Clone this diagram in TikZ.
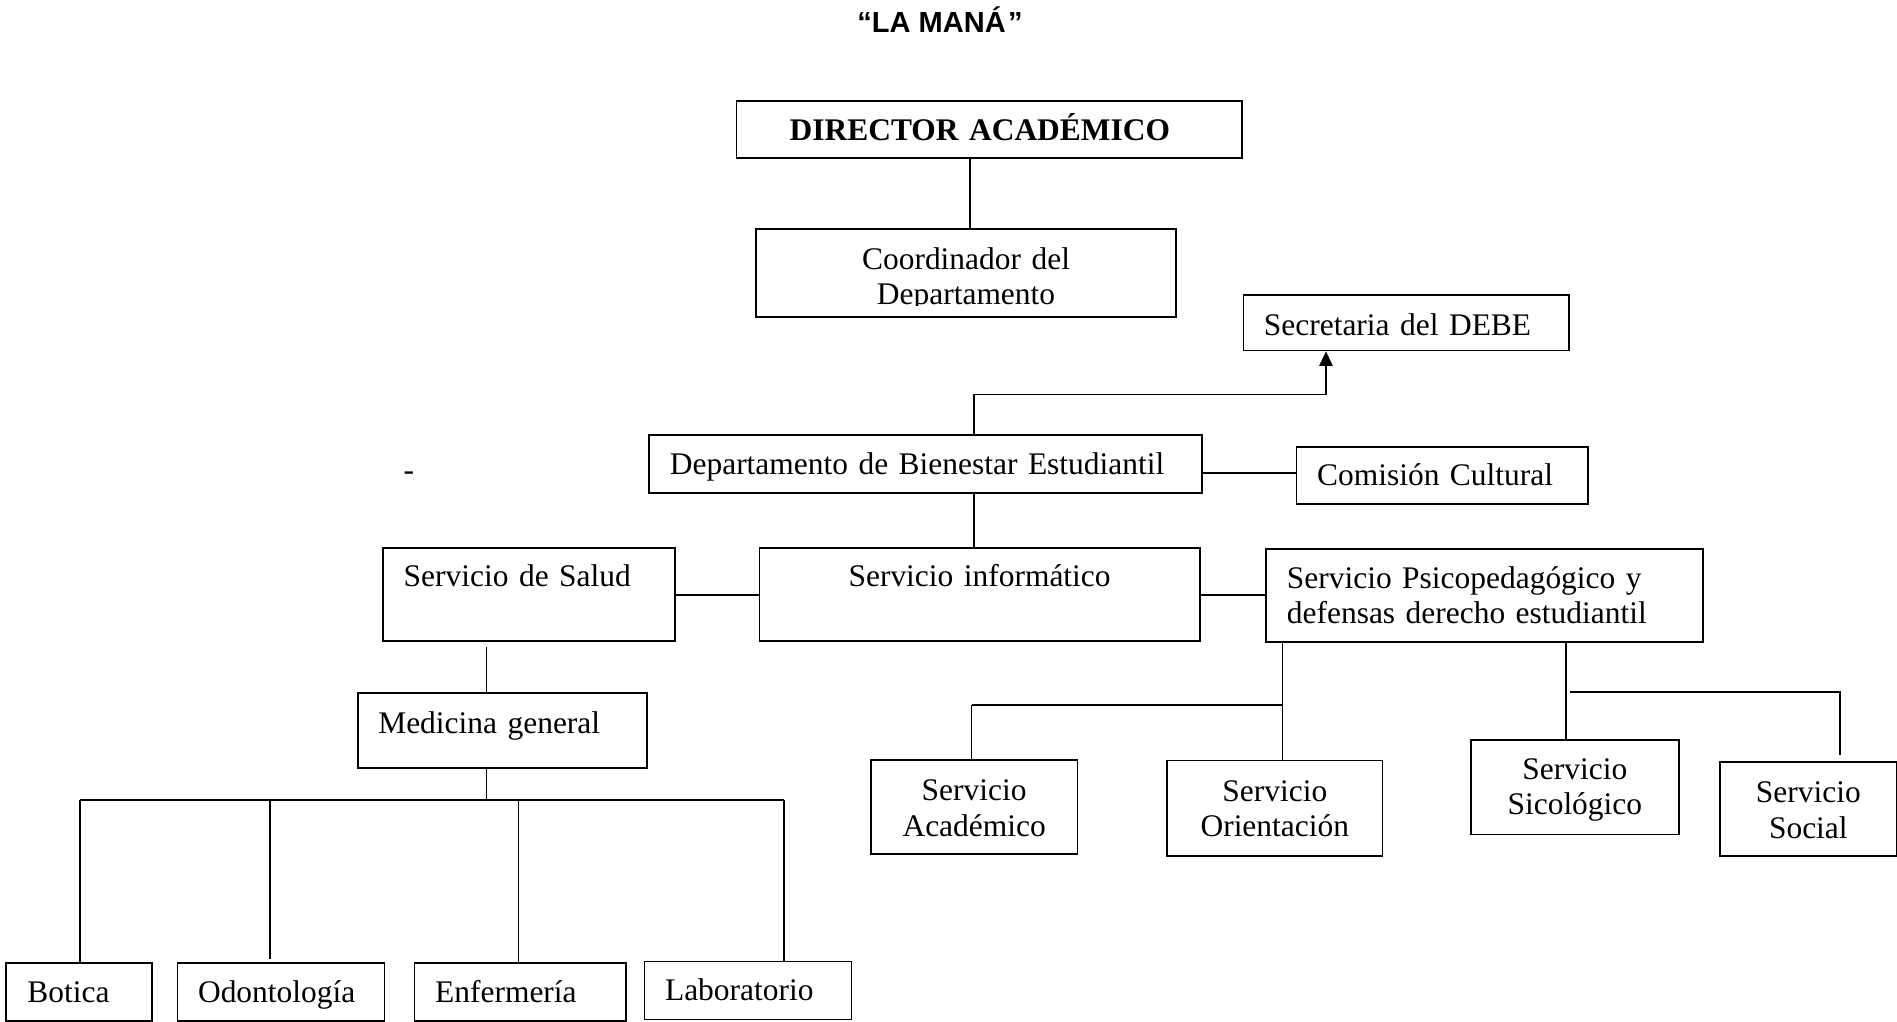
\documentclass[tikz,border=0pt]{standalone}
\usepackage{fontspec}
\setmainfont{Liberation Serif}
\newfontfamily\titlef{Liberation Sans}
\usetikzlibrary{arrows.meta}
\newcommand{\bodysize}{\fontsize{26pt}{29.5pt}\selectfont}
\newcommand{\titlesize}{\fontsize{24pt}{27pt}\selectfont}
\begin{document}
\begin{tikzpicture}[x=1pt,y=-1pt,line width=1.4pt,
  box/.style={draw,line width=1.4pt,inner sep=0pt,anchor=north west,align=left,font=\bodysize},
  cbox/.style={box,align=center},
  conn/.style={line width=1.4pt},
  tip/.style={-{Triangle[length=12pt,width=11pt]}}]
\useasboundingbox (0,0) rectangle (1568,844);

% title
\node[font=\titlef\bfseries\titlesize,anchor=base,inner sep=0pt] (title) at (777,27)
  {“LA MANÁ\kern2pt”};

% boxes
\node[box,font=\bodysize\bfseries,inner xsep=44pt,text width=330pt,text height=32.7pt,text depth=14.3pt] (dir) at (608,83) {DIRECTOR ACADÉMICO};

\begin{scope}
\clip (600,180) rectangle (1000,252.3);
\node[cbox,draw=none,outer sep=0pt,inner xsep=10pt,text width=327pt,text height=33.4pt,text depth=39.6pt] (coord) at (625,189) {Coordinador del\\Departamento};
\end{scope}
\draw[line width=1.4pt] (coord.north west) rectangle (coord.south east);

\node[box,inner xsep=17pt,text width=235pt,text height=34pt,text depth=12pt] (sec) at (1027,243) {Secretaria del DEBE};
\node[box,inner xsep=17pt,text width=423pt,text height=32.3pt,text depth=15.7pt] (dept) at (536,359) {Departamento de Bienestar Estudiantil};
\node[box,inner xsep=17pt,text width=207pt,text height=32pt,text depth=15pt] (com) at (1071,369) {Comisión Cultural};

\node[box,inner xsep=17pt,text width=207pt,text height=32.4pt,text depth=44.6pt] (salud) at (316,452) {Servicio de Salud};
\node[cbox,inner xsep=10pt,text width=344pt,text height=32.4pt,text depth=44.6pt] (inf) at (627,452) {Servicio informático};
\node[box,inner xsep=17pt,text width=327pt,text height=32.5pt,text depth=44.5pt] (psi) at (1046,453) {Servicio Psicopedagógico y\\defensas derecho estudiantil};

\node[box,inner xsep=17pt,text width=205pt,text height=33.6pt,text depth=28.4pt] (med) at (295,572) {Medicina general};

\node[box,inner xsep=18pt,text width=85pt,text height=33pt,text depth=15pt] (bot) at (4,795) {Botica};
\node[box,inner xsep=17pt,text width=137pt,text height=33pt,text depth=15pt] (odo) at (146,795) {Odontología};
\node[box,inner xsep=17pt,text width=141pt,text height=33pt,text depth=15pt] (enf) at (342,795) {Enfermería};
\node[box,inner xsep=17pt,text width=137pt,text height=32pt,text depth=16pt] (lab) at (532,794) {Laboratorio};

\node[cbox,inner xsep=5pt,text width=161pt,text height=33.5pt,text depth=44pt] (aca) at (719,627.5) {Servicio\\Académico};
\node[cbox,inner xsep=5pt,text width=168pt,text height=33.5pt,text depth=45.5pt] (ori) at (964,628) {Servicio\\Orientación};
\node[cbox,inner xsep=5pt,text width=162pt,text height=32.4pt,text depth=45.6pt] (sic) at (1215,611) {Servicio\\Sicológico};
\node[cbox,inner xsep=5pt,text width=136pt,text height=33.6pt,text depth=44.4pt] (soc) at (1421,629) {Servicio\\Social};

% stray hyphen
\node[font=\bodysize,anchor=base,inner sep=0pt] (hy) at (338,397.5) {-};

% junction coordinates
\coordinate (k1) at (802,0);
\coordinate (a1) at (805,326);
\coordinate (a2) at (1096,326);
\coordinate (y391) at (0,391);
\coordinate (y492) at (0,492);
\coordinate (m1) at (402,661);
\coordinate (b1) at (66,661);
\coordinate (b2) at (223,661);
\coordinate (b3) at (428.5,661);
\coordinate (b4) at (648,661);
\coordinate (r1) at (1060,583);
\coordinate (r2) at (803,583);
\coordinate (s0) at (1294.5,0);
\coordinate (s1) at (1298,572);
\coordinate (s2) at (1521,572);

% connectors
\draw[conn] (dir.south -| k1) -- (coord.north -| k1);
\draw[conn,tip] (dept.north -| a1) -- (a1) -- (a2) -- (sec.south -| a2);
\draw[conn] (dept.east |- y391) -- (com.west |- y391);
\draw[conn] (dept.south -| a1) -- (inf.north -| a1);
\draw[conn] (salud.east |- y492) -- (inf.west |- y492);
\draw[conn] (inf.east |- y492) -- (psi.west |- y492);
\draw[conn,shorten <=4pt] (salud.south -| m1) -- (med.north -| m1);
\draw[conn] (med.south -| m1) -- (m1);
\draw[conn] (b1) -- (b4);
\draw[conn] (b1) -- (bot.north -| b1);
\draw[conn,shorten >=2pt] (b2) -- (odo.north -| b2);
\draw[conn] (b3) -- ([yshift=-2pt]enf.north -| b3);
\draw[conn] (b4) -- (lab.north -| b4);
\draw[conn] (psi.south -| r1) -- (ori.north -| r1);
\draw[conn] (r2) -- (r1);
\draw[conn] (r2) -- (aca.north -| r2);
\draw[conn] (psi.south -| s0) -- (sic.north -| s0);
\draw[conn,shorten >=5pt] (s1) -- (s2) -- (soc.north -| s2);
\end{tikzpicture}
\end{document}
